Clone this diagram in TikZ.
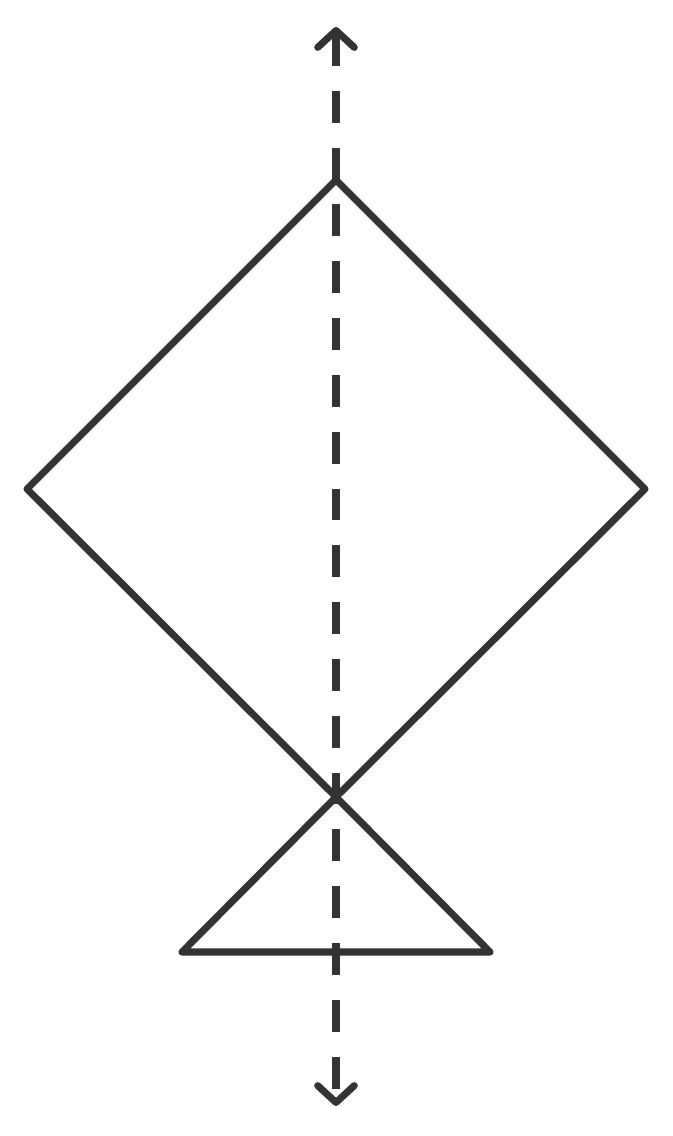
\documentclass[tikz,border=0pt]{standalone}
\usepackage[HTML]{xcolor}
\usetikzlibrary{arrows.meta}
\definecolor{ink}{HTML}{333333}
\begin{document}
\begin{tikzpicture}[x=0.025cm, y=-0.025cm,
  edge/.style={draw=ink, line width=5pt, line join=round, line cap=round},
  axis/.style={draw=ink, line width=5pt, dash pattern=on 22.7pt off 17.7pt,
    {Straight Barb[length=12pt, width=26pt, round]}-{Straight Barb[length=12pt, width=26pt, round]}}]
\useasboundingbox (0,0) rectangle (672,1136);
% vertices
\coordinate (top) at (336,180);
\coordinate (left) at (27,489);
\coordinate (right) at (645,489);
\coordinate (mid) at (336,797);
\coordinate (bl) at (182,952);
\coordinate (br) at (490,952);
\coordinate (up) at (336,27);
\coordinate (down) at (336,1106);
% symmetry axis
\draw[axis] (up) -- (down);
% kite and triangle
\draw[edge] (top) -- (right) -- (mid) -- (left) -- cycle;
\draw[edge] (mid) -- (br) -- (bl) -- cycle;
\end{tikzpicture}
\end{document}
